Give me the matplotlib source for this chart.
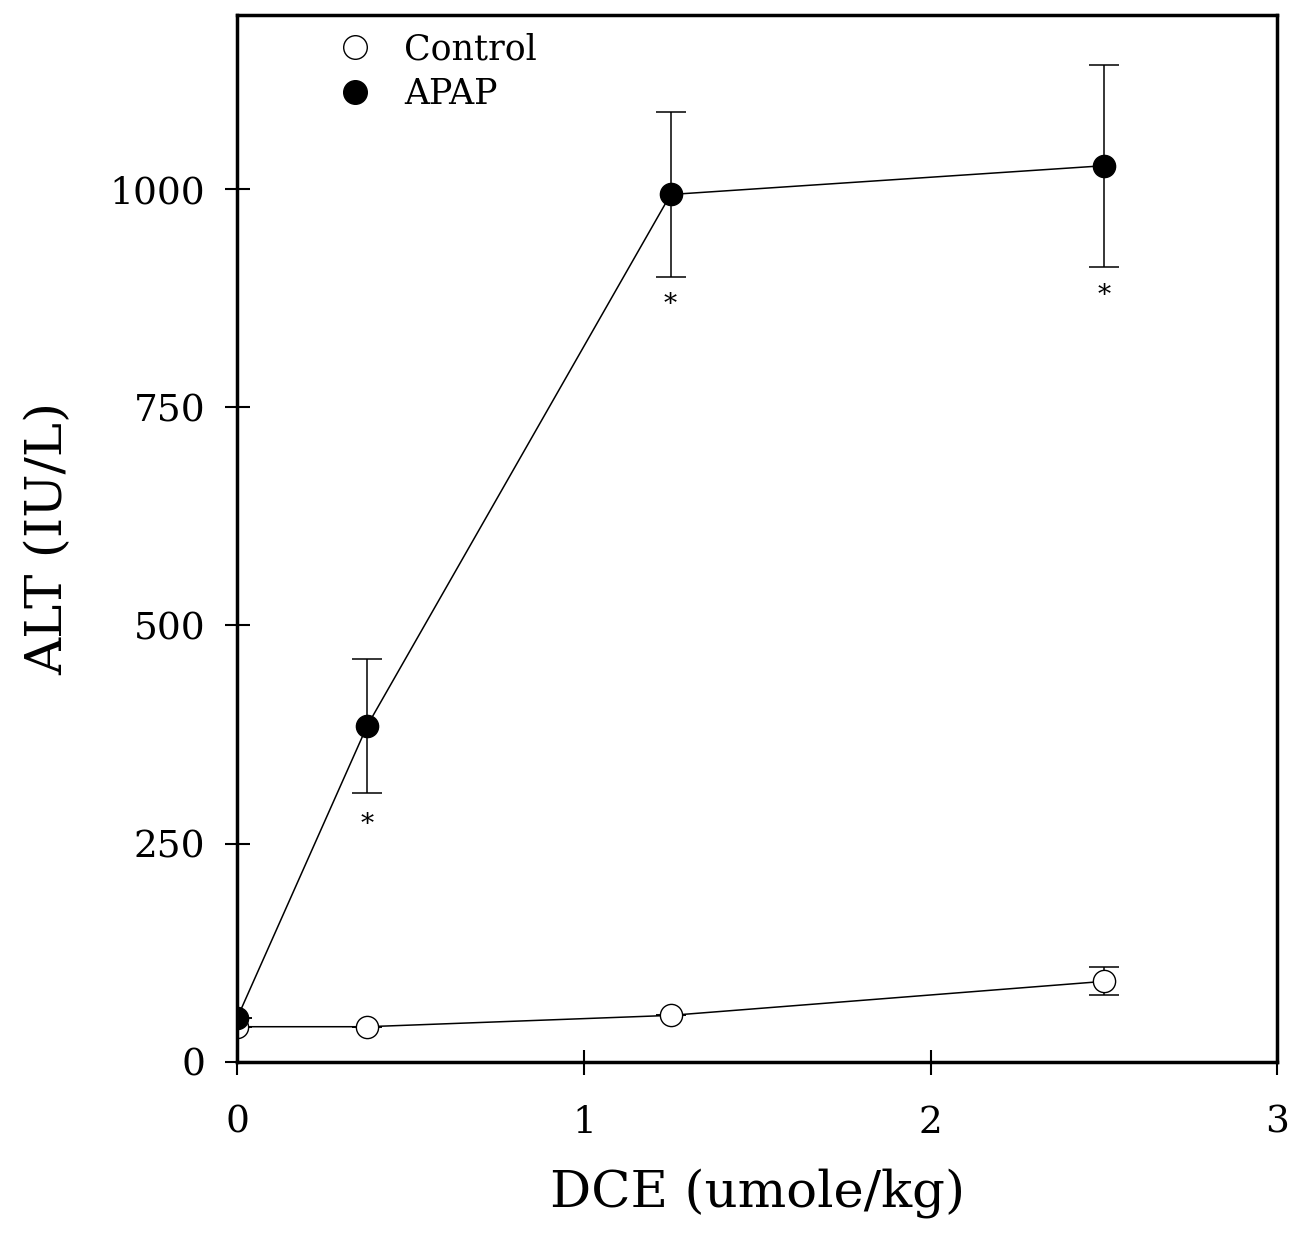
import matplotlib.pyplot as plt
from matplotlib.lines import Line2D

plt.rcParams['font.family'] = ['DejaVu Serif']

# data
dce = [0.0, 0.375, 1.25, 2.5]
control = [40, 40, 53, 92]
control_err = [0, 0, 0, 16]
apap = [50, 385, 994, 1027]
apap_err = [0, 77, 94, 116]
star_x = [0.375, 1.25, 2.5]
star_y = [272, 868, 878]

fig = plt.figure(figsize=(12.89, 12.33), dpi=100)
ax = fig.add_axes([0.184, 0.139, 0.807, 0.849])

ax.errorbar(dce, apap, yerr=apap_err, fmt='o-', color='black', mfc='black',
            ms=16, lw=1.1, elinewidth=1.1, capsize=11, capthick=1.1, zorder=3)
ax.errorbar(dce, control, yerr=control_err, fmt='o-', color='black', mfc='white',
            ms=16, lw=1.1, elinewidth=1.1, capsize=11, capthick=1.1, zorder=2)

for xs, ys in zip(star_x, star_y):
    ax.text(xs, ys, '*', ha='center', va='center', fontsize=19)

ax.set_xlim(0, 3)
ax.set_ylim(0, 1200)
ax.set_xticks([0, 1, 2, 3])
ax.set_yticks([0, 250, 500, 750, 1000])
ax.tick_params(direction='inout', length=18, width=1.5, labelsize=27, pad=14)
ax.tick_params(axis='x', pad=22)
for s in ax.spines.values():
    s.set_linewidth(2.5)

ax.set_xlabel('DCE (umole/kg)', fontsize=37, labelpad=20)
ax.set_ylabel('ALT (IU/L)', fontsize=37, labelpad=26)

handles = [Line2D([], [], marker='o', ls='none', mfc='white', mec='black', ms=17),
           Line2D([], [], marker='o', ls='none', mfc='black', mec='black', ms=17)]
ax.legend(handles, ['Control', 'APAP'], loc='upper left', bbox_to_anchor=(0.05, 1.013),
          frameon=False, fontsize=25, handletextpad=0.4, labelspacing=0.3)

fig.savefig('out.png', dpi=100)
